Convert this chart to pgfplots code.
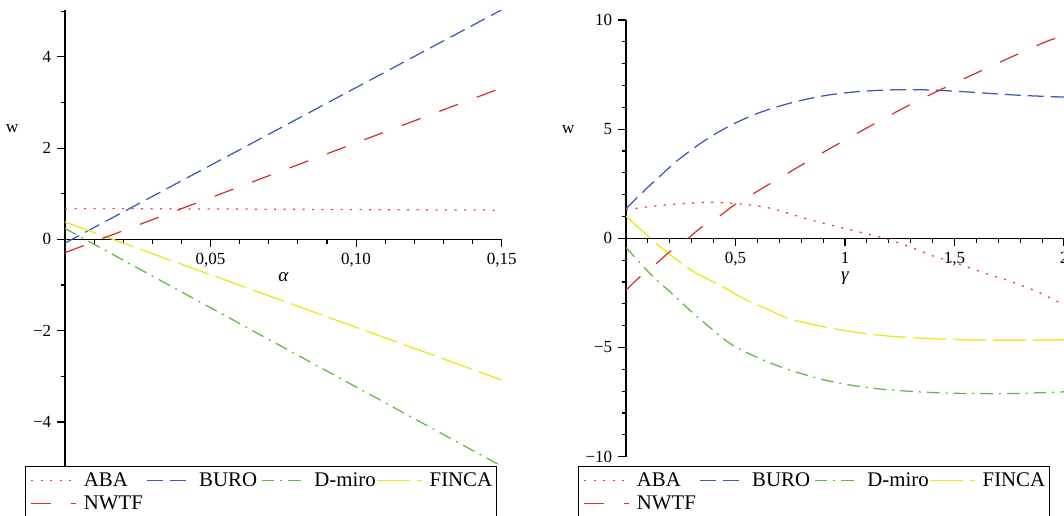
\documentclass[border=0pt]{standalone}
\usepackage{fontspec}
\setmainfont{Liberation Serif}
\usepackage{pgfplots}
\pgfplotsset{compat=1.18}
\definecolor{cABA}{RGB}{240,60,60}
\definecolor{cBURO}{RGB}{60,90,180}
\definecolor{cDmiro}{RGB}{95,185,65}
\definecolor{cFINCA}{RGB}{240,228,20}
\definecolor{cNWTF}{RGB}{215,50,50}
\pgfplotsset{
  mystyle/.style={
    scale only axis, axis lines=middle,
    axis line style={-, line width=0.8pt, black},
    enlargelimits=false, clip=true,
    tick align=outside, major tick length=4.8pt, minor tick length=2.7pt,
    every tick/.append style={black, line width=0.7pt},
    tick label style={font=\fontsize{10.2}{12}\selectfont},
    hide obscured x ticks=false, hide obscured y ticks=false,
    ylabel style={rotate=0, anchor=center, font=\fontsize{10.5}{12}\selectfont},
    xlabel style={anchor=center, font=\fontsize{11.5}{13}\selectfont},
    legend columns=4, legend cell align=left,
    legend style={draw=black, line width=0.8pt, fill=white,
      inner xsep=3pt, inner ysep=1.5pt, font=\fontsize{12.5}{14}\selectfont,
      nodes={inner sep=0pt, text height=10.2pt, text depth=3.6pt},
      /tikz/every odd column/.append style={column sep=4.2pt},
      /tikz/every even column/.append style={column sep=0pt}},
    legend image code/.code={\draw[##1, line width=0.75pt] (0pt,0pt) -- (27pt,0pt);},
    every axis plot/.append style={line width=0.75pt},
  },
  sABA/.style={cABA, dash pattern=on 1.3pt off 4.4pt},
  sBURO/.style={cBURO, dash pattern=on 9.6pt off 4.2pt},
  sDmiro/.style={cDmiro, dash pattern=on 7.6pt off 3.6pt on 1.2pt off 3.6pt},
  sFINCA/.style={cFINCA, dash pattern=on 19.8pt off 4.2pt},
  sNWTF/.style={cNWTF, dash pattern=on 12pt off 12pt},
}
\newcommand{\lt}[1]{\makebox[37.2pt][l]{#1}}
\begin{document}
\begin{tikzpicture}
\begin{axis}[mystyle, at={(39pt,28.44pt)}, anchor=south west,
  width=262pt, height=274.4pt,
  xmin=0, xmax=0.15, ymin=-5, ymax=5.02,
  xtick={0.05,0.1,0.15}, xticklabels={{0,05},{0,10},{0,15}},
  minor xtick={0.01,0.02,0.03,0.04,0.06,0.07,0.08,0.09,0.11,0.12,0.13,0.14},
  ytick={-4,-2,0,2,4}, yticklabels={−4,−2,0,2,4},
  minor ytick={-5,-3,-1,1,3,5},
  xlabel={\itshape α}, ylabel={w},
  xlabel style={at={(axis description cs:0.5,0.417)}},
  ylabel style={at={(axis description cs:-0.121,0.742)}},
  legend style={at={(axis description cs:-0.0916,0.0035)}, anchor=north west},
]
\addplot[sABA] coordinates {(0,0.68) (0.15,0.64)};
\addlegendentry{\lt{ABA}}
\addplot[sBURO] coordinates {(0,-0.08) (0.15,5.03)};
\addlegendentry{\lt{BURO}}
\addplot[sDmiro] coordinates {(0,0.24) (0.15,-4.97)};
\addlegendentry{\lt{D-miro}}
\addplot[sFINCA] coordinates {(0,0.38) (0.15,-3.08)};
\addlegendentry{\lt{FINCA}}
\addplot[sNWTF] coordinates {(0,-0.29) (0.15,3.32)};
\addlegendentry{\lt{NWTF}}
\end{axis}
\begin{axis}[mystyle, at={(375.6pt,35.0pt)}, anchor=south west,
  width=262.8pt, height=262pt,
  xmin=0, xmax=2, ymin=-10, ymax=10,
  xtick={0.5,1,1.5,2}, xticklabels={{0,5},1,{1,5},2},
  minor xtick={0.1,0.2,0.3,0.4,0.6,0.7,0.8,0.9,1.1,1.2,1.3,1.4,1.6,1.7,1.8,1.9},
  ytick={-10,-5,0,5,10}, yticklabels={−10,−5,0,5,10},
  minor ytick={-9,-8,-7,-6,-4,-3,-2,-1,1,2,3,4,6,7,8,9},
  xlabel={\itshape γ}, ylabel={w},
  xlabel style={at={(axis description cs:0.5,0.409)}},
  ylabel style={at={(axis description cs:-0.132,0.748)}},
  legend style={at={(axis description cs:-0.1096,-0.0215)}, anchor=north west},
]
\addplot[sABA, smooth] coordinates {(0,1.30) (0.12,1.47) (0.28,1.60) (0.43,1.64) (0.64,1.42) (0.84,0.85) (1.04,0.35) (1.18,0.0) (1.32,-0.48) (1.40,-0.80) (1.52,-1.18) (1.67,-1.70) (1.75,-1.95) (1.88,-2.45) (2.0,-3.05)};
\addlegendentry{\lt{ABA}}
\addplot[sBURO, smooth] coordinates {(0,1.35) (0.086,2.21) (0.155,2.85) (0.238,3.59) (0.352,4.43) (0.473,5.15) (0.61,5.76) (0.76,6.22) (0.91,6.54) (1.06,6.72) (1.21,6.80) (1.37,6.80) (1.52,6.73) (1.67,6.63) (1.82,6.54) (2.0,6.47)};
\addlegendentry{\lt{BURO}}
\addplot[sDmiro, smooth] coordinates {(0,-0.42) (0.064,-1.12) (0.124,-1.76) (0.2,-2.44) (0.276,-3.15) (0.336,-3.68) (0.488,-4.9) (0.685,-5.81) (0.912,-6.5) (1.14,-6.88) (1.44,-7.08) (1.745,-7.11) (2.0,-7.03)};
\addlegendentry{\lt{D-miro}}
\addplot[sFINCA, smooth] coordinates {(0,1.02) (0.05,0.55) (0.11,0.02) (0.17,-0.5) (0.245,-1.07) (0.321,-1.6) (0.427,-2.14) (0.548,-2.82) (0.632,-3.18) (0.76,-3.72) (0.99,-4.21) (1.215,-4.49) (1.52,-4.64) (1.82,-4.67) (2.0,-4.64)};
\addlegendentry{\lt{FINCA}}
\addplot[sNWTF, smooth] coordinates {(0,-2.37) (0.064,-1.76) (0.139,-1.15) (0.2,-0.61) (0.283,0) (0.344,0.5) (0.427,1.02) (0.495,1.53) (0.579,2.03) (0.647,2.44) (0.957,4.26) (1.35,6.39) (1.897,8.92) (2.0,9.2)};
\addlegendentry{\lt{NWTF}}
\end{axis}
\pgfresetboundingbox
\path[use as bounding box] (0,0) rectangle (638.4pt,309pt);
\end{tikzpicture}
\end{document}
